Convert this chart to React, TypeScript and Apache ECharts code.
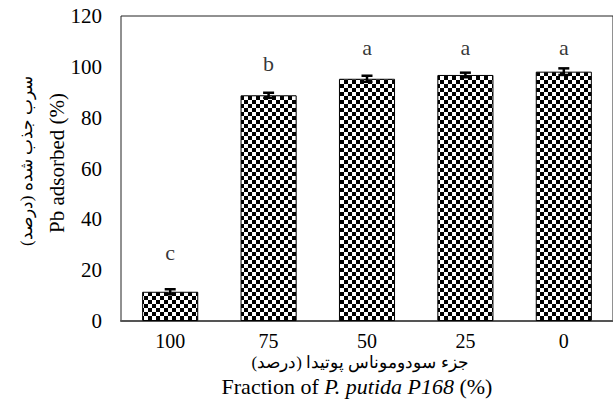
import React, { useEffect, useRef } from "react";
import * as echarts from "echarts";

const categories = ["100", "75", "50", "25", "0"];
const values = [11.5, 88.8, 95.3, 96.8, 98.1];
const errors = [1.0, 1.0, 1.2, 0.9, 1.3];
const letters = ["c", "b", "a", "a", "a"];
const letterY = [27, 101.5, 107.7, 107.7, 107.7];
const yTitleEn = "Pb adsorbed (%)";
const yTitleFa = "سرب جذب شده (درصد)";
const xTitleFa = "جزء سودوموناس پوتیدا (درصد)";

function makePattern(): string {
  const c = document.createElement("canvas");
  c.width = 8;
  c.height = 8;
  const ctx = c.getContext("2d")!;
  ctx.fillStyle = "#fff";
  ctx.fillRect(0, 0, 8, 8);
  ctx.fillStyle = "#000";
  ctx.fillRect(0, 0, 4, 4);
  ctx.fillRect(4, 4, 4, 4);
  return c.toDataURL("image/png");
}

export default function App() {
  const ref = useRef<HTMLDivElement>(null);
  useEffect(() => {
    if (!ref.current) return;
    const chart = echarts.init(ref.current, null, { renderer: "svg" });
    const lib = "Liberation Serif";
    const pattern = makePattern();
    chart.setOption({
      animation: false,
      backgroundColor: "#fff",
      textStyle: { fontFamily: lib },
      grid: {
        left: 121,
        top: 16,
        width: 502,
        height: 305,
        show: true,
        borderColor: "#222",
        borderWidth: 1,
        backgroundColor: "transparent",
      },
      xAxis: {
        type: "category",
        data: categories,
        axisLine: { show: true, lineStyle: { color: "#555", width: 2 } },
        axisTick: { show: false },
        axisLabel: { color: "#000", fontFamily: lib, fontSize: 20, margin: 10 },
      },
      yAxis: {
        type: "value",
        min: 0,
        max: 120,
        interval: 20,
        splitLine: { show: false },
        axisLine: { show: false },
        axisTick: { show: false },
        axisLabel: { color: "#000", fontFamily: lib, fontSize: 21, margin: 19 },
      },
      series: [
        {
          type: "bar",
          data: values,
          barWidth: "57%",
          itemStyle: {
            color: { image: pattern, repeat: "repeat" },
            borderColor: "#000",
            borderWidth: 1,
          },
          z: 2,
        },
        {
          type: "custom",
          data: values.map((v, i) => [i, v, errors[i]]),
          z: 5,
          renderItem: (params: any, api: any) => {
            const i = api.value(0);
            const v = api.value(1);
            const e = api.value(2);
            const top = api.coord([i, v + e]);
            const bot = api.coord([i, v - e]);
            const hw = 5.5;
            const st = { stroke: "#000", lineWidth: 2.5 };
            return {
              type: "group",
              children: [
                { type: "line", shape: { x1: top[0], y1: top[1], x2: bot[0], y2: bot[1] }, style: st },
                { type: "line", shape: { x1: top[0] - hw, y1: top[1], x2: top[0] + hw, y2: top[1] }, style: st },
                { type: "line", shape: { x1: bot[0] - hw, y1: bot[1], x2: bot[0] + hw, y2: bot[1] }, style: st },
              ],
            };
          },
        },
        {
          type: "scatter",
          data: letterY.map((y, i) => [i, y]),
          symbolSize: 0,
          label: {
            show: true,
            position: "inside",
            formatter: (p: any) => letters[p.dataIndex],
            color: "#000",
            fontFamily: lib,
            fontSize: 22,
          },
          z: 6,
        },
      ],
      graphic: [
        {
          type: "text",
          x: 57,
          y: 163,
          rotation: Math.PI / 2,
          style: {
            text: yTitleEn,
            fontFamily: lib,
            fontSize: 21,
            fill: "#000",
            align: "center",
            verticalAlign: "middle",
          },
        },
        {
          type: "text",
          x: 26,
          y: 161,
          rotation: Math.PI / 2,
          style: {
            text: yTitleFa,
            fontFamily: lib,
            fontSize: 17,
            fill: "#000",
            align: "center",
            verticalAlign: "middle",
          },
        },
        {
          type: "text",
          x: 360,
          y: 362,
          style: {
            text: xTitleFa,
            fontFamily: lib,
            fontSize: 17,
            fill: "#000",
            align: "center",
            verticalAlign: "middle",
          },
        },
        {
          type: "text",
          x: 357,
          y: 386,
          style: {
            text: "{n|Fraction of }{i|P. putida P168}{n| (%)}",
            rich: {
              n: { fontFamily: lib, fontSize: 22, fill: "#000" },
              i: { fontFamily: lib, fontSize: 22, fontStyle: "italic", fill: "#000" },
            },
            align: "center",
            verticalAlign: "middle",
          },
        },
      ],
    });
    return () => chart.dispose();
  }, []);
  return <div ref={ref} style={{ width: 613, height: 410, position: "absolute", left: 0, top: 0 }} />;
}
